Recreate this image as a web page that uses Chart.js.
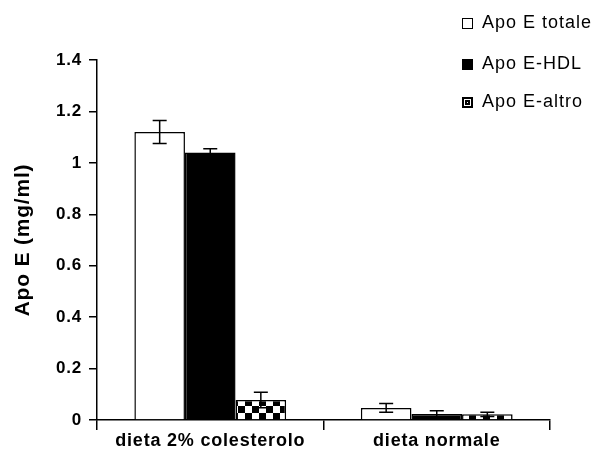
<!DOCTYPE html>
<html>
<head>
<meta charset="utf-8">
<script src="https://cdn.jsdelivr.net/npm/chart.js@4"></script>
<style>
  body { margin: 0; background: #fff; }
  #wrap { position: relative; width: 597px; height: 466px; }
  #legend { font-family: "Liberation Sans", Arial, sans-serif; font-size: 18px; color: #000; letter-spacing: 1px; }
  #legend div { position: absolute; left: 462px; height: 22px; line-height: 22px; white-space: nowrap; }
  #legend span.box { display: inline-block; width: 11px; height: 11px; border: 1.5px solid #000; margin-right: 9px; vertical-align: -1px; box-sizing: border-box; }
</style>
</head>
<body>
<div id="wrap">
  <canvas id="chart" width="597" height="466"></canvas>
  <div id="legend"></div>
</div>
<script>
var categories = ["dieta 2% colesterolo", "dieta normale"];
var seriesNames = ["Apo E totale", "Apo E-HDL", "Apo E-altro"];
var totale = [1.12, 0.047];
var totaleErr = [0.045, 0.017];
var hdl = [1.04, 0.023];
var hdlErr = [0.015, 0.013];
var altro = [0.078, 0.022];
var altroErr = [0.03, 0.008];
var yTicks = [0, 0.2, 0.4, 0.6, 0.8, 1, 1.2, 1.4];

function checker() {
    var c = document.createElement("canvas");
    c.width = 14; c.height = 14;
    var g = c.getContext("2d");
    g.fillStyle = "#fff"; g.fillRect(0, 0, 14, 14);
    g.fillStyle = "#000";
    g.fillRect(0, 0, 7, 7);
    g.fillRect(7, 7, 7, 7);
    return document.getElementById("chart").getContext("2d").createPattern(c, "repeat");
}

var errors = [totaleErr, hdlErr, altroErr];

// slightly looser letters, like the original export
var spacing = {
    id: "spacing",
    beforeDraw: function(chart) { chart.ctx.letterSpacing = "0.8px"; },
    beforeDatasetsDraw: function(chart) { chart.ctx.letterSpacing = "0px"; }
};

var errorBars = {
    id: "errorBars",
    afterDatasetsDraw: function(chart) {
        var ctx = chart.ctx;
        var y = chart.scales.y;
        ctx.save();
        ctx.strokeStyle = "#000";
        ctx.lineWidth = 1.5;
        chart.data.datasets.forEach(function(ds, i) {
            var meta = chart.getDatasetMeta(i);
            meta.data.forEach(function(bar, j) {
                var v = ds.data[j], e = errors[i][j];
                var top = y.getPixelForValue(v + e);
                var bot = y.getPixelForValue(v - e);
                ctx.beginPath();
                ctx.moveTo(bar.x, top); ctx.lineTo(bar.x, bot);
                ctx.moveTo(bar.x - 7, top); ctx.lineTo(bar.x + 7, top);
                ctx.moveTo(bar.x - 7, bot); ctx.lineTo(bar.x + 7, bot);
                ctx.stroke();
            });
        });
        ctx.restore();
    }
};

var fam = "'Liberation Sans', Arial, sans-serif";

new Chart(document.getElementById("chart"), {
    type: "bar",
    data: {
        labels: categories,
        datasets: [
            { label: seriesNames[0], data: totale, backgroundColor: "#fff", borderColor: "#000", borderWidth: 1.5 },
            { label: seriesNames[1], data: hdl, backgroundColor: "#000", borderColor: "#000", borderWidth: 1.5 },
            { label: seriesNames[2], data: altro, backgroundColor: checker(), borderColor: "#000", borderWidth: 1.5 }
        ]
    },
    options: {
        responsive: false,
        animation: false,
        layout: { padding: { top: 60, right: 47, left: 0, bottom: 0 } },
        datasets: { bar: { categoryPercentage: 0.67, barPercentage: 1.0 } },
        plugins: {
            legend: { display: false },
            tooltip: { enabled: false }
        },
        scales: {
            x: {
                grid: { display: true, drawOnChartArea: false, drawTicks: true, tickLength: 10, color: "#000", lineWidth: 1.5 },
                border: { color: "#000", width: 1.5 },
                ticks: { color: "#000", font: { family: fam, size: 18, weight: "bold" }, padding: 0 },
                afterFit: function(s) { s.height = 46; }
            },
            y: {
                min: 0, max: 1.4,
                afterBuildTicks: function(s) { s.ticks = yTicks.map(function(v) { return { value: v }; }); },
                grid: { display: true, drawOnChartArea: false, drawTicks: true, tickLength: 8, color: "#000", lineWidth: 1.5 },
                border: { color: "#000", width: 1.5 },
                ticks: { color: "#000", font: { family: fam, size: 17, weight: "bold" }, padding: 7, callback: function(v) { return String(parseFloat(v.toFixed(1))); } },
                title: { display: true, text: "Apo E (mg/ml)", color: "#000", font: { family: fam, size: 21, weight: "bold" }, padding: 11 },
                afterFit: function(s) { s.width = 97; }
            }
        }
    },
    plugins: [spacing, errorBars]
});

var leg = document.getElementById("legend");
var rowTops = [11, 52, 90];
var boxStyles = ["background:#fff", "background:#000", "background:#fff;border-width:2px;box-shadow:inset 0 0 0 1px #fff, inset 0 0 0 3px #000"];
seriesNames.forEach(function(n, i) {
    var d = document.createElement("div");
    d.style.top = rowTops[i] + "px";
    d.innerHTML = '<span class="box" style="' + boxStyles[i] + '"></span>' + n;
    leg.appendChild(d);
});
</script>
</body>
</html>
